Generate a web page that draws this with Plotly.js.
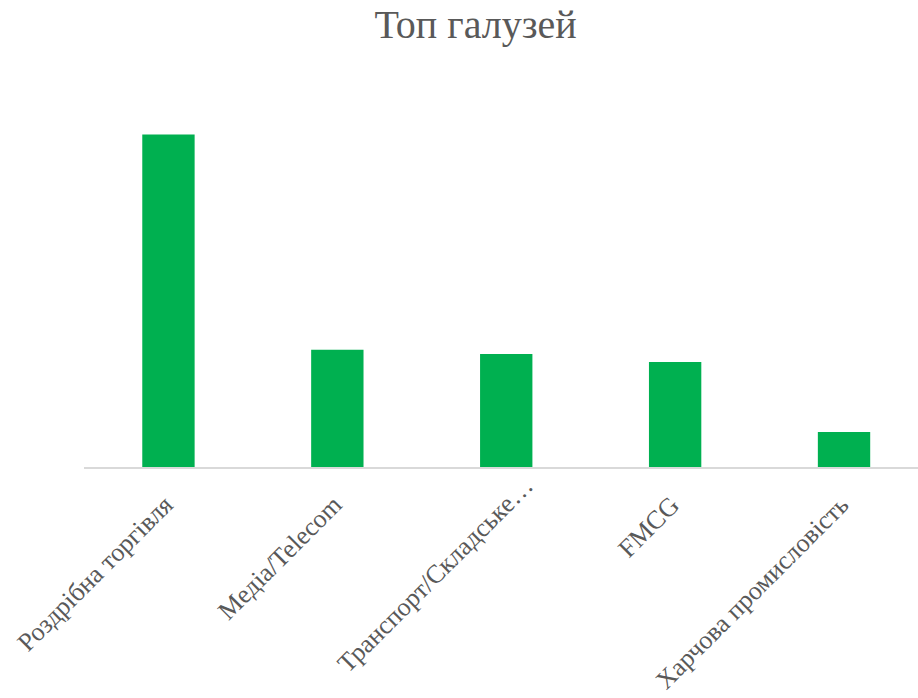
<!DOCTYPE html>
<html>
<head>
<meta charset="utf-8">
<script src="https://cdn.plot.ly/plotly-3.0.1.min.js"></script>
<style>html,body{margin:0;padding:0;background:#fff;}#chart{width:918px;height:698px;}</style>
</head>
<body>
<div id="chart"></div>
<script>
const categories = ["Роздрібна торгівля", "Медіа/Telecom", "Транспорт/Складське…", "FMCG", "Харчова промисловість"];
const values = [95, 33.5, 32.3, 30, 10];
const chartTitle = "Топ галузей";
// label offsets (style only): the truncated label sits further up-right in the reference
const labelShiftX = [0, 0, 22, 0, 0];
const labelShiftY = [0, 0, 20, 0, 0];

const trace = {
  type: "bar",
  x: categories,
  y: values,
  marker: {color: "#00B050"},
  hoverinfo: "x+y"
};

const labelFont = {family: "Liberation Serif, Times New Roman, serif", size: 26, color: "#595959"};

const annotations = categories.map((c, i) => ({
  x: c, xref: "x",
  y: 0, yref: "y",
  text: c,
  showarrow: false,
  textangle: -45,
  xanchor: "right",
  yanchor: "top",
  xshift: 12 + labelShiftX[i],
  yshift: -22 + labelShiftY[i],
  font: labelFont,
  borderpad: 0
}));

const layout = {
  width: 918,
  height: 698,
  paper_bgcolor: "#ffffff",
  plot_bgcolor: "#ffffff",
  margin: {l: 83.5, r: 0, t: 117, b: 231},
  bargap: 0.69,
  showlegend: false,
  title: {
    text: chartTitle,
    font: {family: "Liberation Serif, Times New Roman, serif", size: 40, color: "#595959"},
    x: 0.518, xanchor: "center",
    y: 0.985, yanchor: "top"
  },
  xaxis: {
    type: "category",
    range: [-0.5, 4.438],
    showline: true,
    linecolor: "#D9D9D9",
    linewidth: 2,
    ticks: "",
    showticklabels: false,
    showgrid: false,
    zeroline: false,
    fixedrange: true
  },
  yaxis: {
    range: [0, 100],
    visible: false,
    showgrid: false,
    zeroline: false,
    fixedrange: true
  },
  annotations: annotations
};

Plotly.newPlot("chart", [trace], layout, {displayModeBar: false, staticPlot: true});
</script>
</body>
</html>
